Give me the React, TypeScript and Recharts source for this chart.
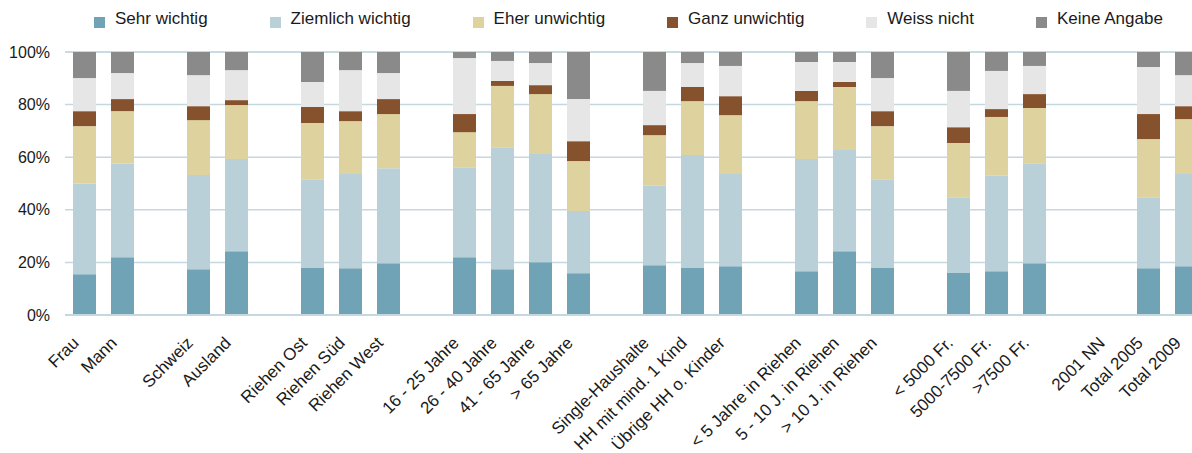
import React from 'react';
import { BarChart, Bar, XAxis, YAxis, CartesianGrid } from 'recharts';

// Kategorien, leere Strings = Abstand zwischen den Gruppen
const categories = [
  'Frau', 'Mann', '',
  'Schweiz', 'Ausland', '',
  'Riehen Ost', 'Riehen Süd', 'Riehen West', '',
  '16 - 25 Jahre', '26 - 40 Jahre', '41 - 65 Jahre', '> 65 Jahre', '',
  'Single-Haushalte', 'HH mit mind. 1 Kind', 'Übrige HH o. Kinder', '',
  '< 5 Jahre in Riehen', '5 - 10 J. in Riehen', '> 10 J. in Riehen', '',
  '< 5000 Fr.', '5000-7500 Fr.', '>7500 Fr.', '',
  '2001 NN', 'Total 2005', 'Total 2009',
];

const sehrWichtig = [15.5, 22.0, null, 17.4, 24.2, null, 18.1, 17.8, 19.7, null, 22.0, 17.4, 20.1, 15.9, null, 18.9, 18.1, 18.5, null, 16.6, 24.2, 18.1, null, 16.2, 16.6, 19.7, null, null, 17.8, 18.5];
const ziemlichWichtig = [34.5, 35.6, null, 35.8, 35.1, null, 33.5, 35.8, 36.1, null, 34.2, 46.4, 41.1, 23.6, null, 30.2, 42.7, 35.1, null, 42.7, 38.5, 33.5, null, 28.6, 36.3, 38.0, null, null, 27.0, 35.1];
const eherUnwichtig = [21.8, 19.9, null, 20.9, 20.5, null, 21.4, 20.1, 20.6, null, 13.3, 23.3, 22.8, 19.0, null, 19.3, 20.5, 22.4, null, 22.0, 24.0, 20.2, null, 20.6, 22.4, 21.0, null, null, 22.1, 20.9];
const ganzUnwichtig = [5.7, 4.6, null, 5.3, 1.9, null, 6.1, 3.8, 5.7, null, 6.9, 1.9, 3.4, 7.6, null, 3.8, 5.4, 7.2, null, 3.9, 1.9, 5.7, null, 6.0, 3.0, 5.3, null, null, 9.5, 4.9];
const weissNicht = [12.6, 9.9, null, 11.8, 11.4, null, 9.5, 15.6, 9.9, null, 21.3, 7.6, 8.4, 16.0, null, 13.0, 9.1, 11.5, null, 11.0, 7.6, 12.6, null, 13.8, 14.5, 10.7, null, null, 17.9, 11.8];
const keineAngabe = [9.9, 8.0, null, 8.8, 6.9, null, 11.4, 6.9, 8.0, null, 2.3, 3.4, 4.2, 17.9, null, 14.8, 4.2, 5.3, null, 3.8, 3.8, 9.9, null, 14.8, 7.2, 5.3, null, null, 5.7, 8.8];

const yTicks = [0, 20, 40, 60, 80, 100];

const series = [
  { key: 'sehr', name: 'Sehr wichtig', color: '#6fa3b5', values: sehrWichtig },
  { key: 'ziemlich', name: 'Ziemlich wichtig', color: '#b9d0d8', values: ziemlichWichtig },
  { key: 'eher', name: 'Eher unwichtig', color: '#ded29f', values: eherUnwichtig },
  { key: 'ganz', name: 'Ganz unwichtig', color: '#86522e', values: ganzUnwichtig },
  { key: 'weiss', name: 'Weiss nicht', color: '#e6e6e6', values: weissNicht },
  { key: 'keine', name: 'Keine Angabe', color: '#8a8a8a', values: keineAngabe },
];

const data = categories.map((name, i) => {
  const row: Record<string, any> = { id: i, name };
  series.forEach((s) => {
    row[s.key] = s.values[i];
  });
  return row;
});

const FONT = '"Liberation Sans", Arial, sans-serif';
const GRID = '#c5d8df';

// schräge Kategorienbeschriftung (-45°)
function CategoryTick({ x, y, payload }: any) {
  const label = categories[payload.value] ?? '';
  return (
    <text
      transform={`translate(${x - 4},${y + 29}) rotate(-45)`}
      textAnchor="end"
      fontSize={17}
      fontFamily={FONT}
      fill="#1a1a1a"
    >
      {label}
    </text>
  );
}

function LegendRow() {
  return (
    <div
      style={{
        position: 'absolute',
        top: 9,
        left: 94,
        display: 'flex',
        fontFamily: FONT,
        fontSize: 17,
        lineHeight: '20px',
        color: '#1a1a1a',
        whiteSpace: 'nowrap',
      }}
    >
      {series.map((s) => (
        <div key={s.key} style={{ display: 'flex', alignItems: 'flex-start', marginRight: 62 }}>
          <span style={{ width: 11, height: 11, marginTop: 8, marginRight: 10, background: s.color }} />
          <span>{s.name}</span>
        </div>
      ))}
    </div>
  );
}

export default function App() {
  return (
    <div
      style={{
        position: 'absolute',
        left: 0,
        top: 0,
        width: 1192,
        height: 453,
        overflow: 'hidden',
        background: '#fff',
      }}
    >
      <LegendRow />
      <BarChart
        width={1205}
        height={453}
        data={data}
        margin={{ top: 52, right: 0, bottom: 0, left: 0 }}
        barSize={23}
      >
        <CartesianGrid vertical={false} stroke={GRID} strokeWidth={1.5} />
        <XAxis
          dataKey="id"
          type="category"
          interval={0}
          height={138}
          tickLine={false}
          tickSize={0}
          tickMargin={0}
          axisLine={{ stroke: GRID, strokeWidth: 2 }}
          tick={<CategoryTick />}
        />
        <YAxis
          domain={[0, 100]}
          ticks={yTicks}
          width={65}
          axisLine={false}
          tickLine={false}
          tickSize={0}
          tickMargin={15}
          tickFormatter={(v) => `${v}%`}
          tick={{ fontSize: 16, fontFamily: FONT, fill: '#1a1a1a' }}
        />
        {series.map((s) => (
          <Bar
            key={s.key}
            dataKey={s.key}
            name={s.name}
            stackId="a"
            fill={s.color}
            isAnimationActive={false}
          />
        ))}
      </BarChart>
    </div>
  );
}
